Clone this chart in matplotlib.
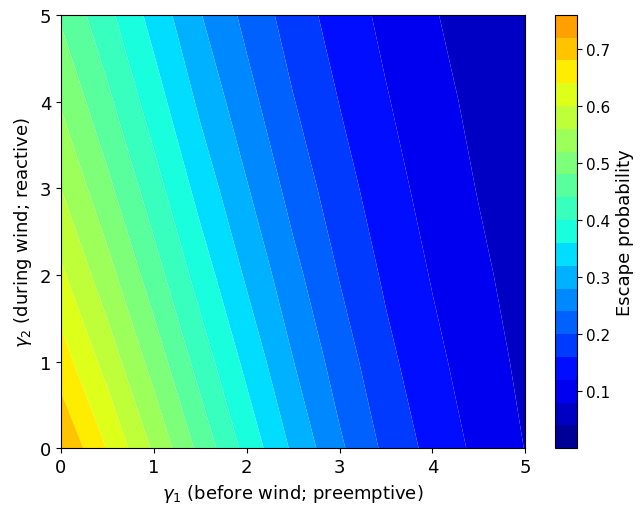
import numpy as np
import matplotlib
matplotlib.use("Agg")
import matplotlib.pyplot as plt

gamma1 = [0.0, 0.5, 1.0, 1.5, 2.0, 2.5, 3.0, 3.5, 4.0, 4.5, 5.0]
gamma2 = [0.0, 1.0, 2.0, 3.0, 4.0, 5.0]

# one row per gamma2 value, one column per gamma1 value
p_g2_0 = [0.717, 0.638, 0.554, 0.468, 0.387, 0.313, 0.247, 0.191, 0.147, 0.110, 0.079]
p_g2_1 = [0.660, 0.584, 0.504, 0.423, 0.349, 0.281, 0.221, 0.171, 0.131, 0.098, 0.071]
p_g2_2 = [0.608, 0.535, 0.458, 0.382, 0.314, 0.252, 0.198, 0.153, 0.117, 0.088, 0.063]
p_g2_3 = [0.560, 0.490, 0.417, 0.345, 0.283, 0.225, 0.177, 0.137, 0.104, 0.078, 0.056]
p_g2_4 = [0.516, 0.449, 0.379, 0.312, 0.254, 0.202, 0.159, 0.123, 0.093, 0.070, 0.050]
p_g2_5 = [0.475, 0.411, 0.345, 0.282, 0.229, 0.181, 0.142, 0.110, 0.083, 0.062, 0.045]

levels = np.arange(0, 0.7601, 0.04)
cbar_ticks = [0.1, 0.2, 0.3, 0.4, 0.5, 0.6, 0.7]

G1, G2 = np.meshgrid(gamma1, gamma2)
P = np.array([p_g2_0, p_g2_1, p_g2_2, p_g2_3, p_g2_4, p_g2_5])

fig = plt.figure(figsize=(6.4, 5.06), dpi=100)
ax = fig.add_axes([61 / 640, 1 - 449.3 / 506, 464.3 / 640, 433.3 / 506])
cax = fig.add_axes([555 / 640, 1 - 449.3 / 506, 21.7 / 640, 433.6 / 506])

# antialiased fills leave the thin light seams between bands seen in the original
cs = ax.contourf(G1, G2, P, levels=levels, cmap="jet", vmin=0, vmax=1,
                 antialiased=True)
ax.set_xlim(0, 5)
ax.set_ylim(0, 5)
ax.set_xticks([0, 1, 2, 3, 4, 5])
ax.set_yticks([0, 1, 2, 3, 4, 5])
ax.tick_params(labelsize=13)
ax.set_xlabel(r"$\gamma_1$ (before wind; preemptive)", fontsize=13)
ax.set_ylabel(r"$\gamma_2$ (during wind; reactive)", fontsize=13)

cb = fig.colorbar(cs, cax=cax)
cb.set_ticks(cbar_ticks)
cb.ax.tick_params(labelsize=11)
cb.set_label("Escape probability", fontsize=13)

fig.savefig("out.png", dpi=100)
